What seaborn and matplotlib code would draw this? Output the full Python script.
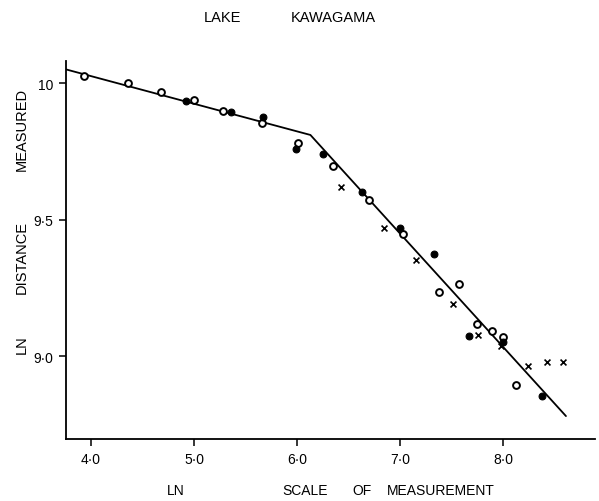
import matplotlib
matplotlib.use("Agg")
import matplotlib.pyplot as plt
import seaborn as sns
import pandas as pd

# ---- data ----
open_x = [3.93, 4.36, 4.68, 5.00, 5.28, 5.66, 6.01, 6.35, 6.70, 7.03, 7.38, 7.57, 7.75, 7.89, 8.00, 8.13]
open_y = [10.026, 10.00, 9.967, 9.938, 9.897, 9.853, 9.780, 9.696, 9.571, 9.447, 9.234, 9.264, 9.117, 9.092, 9.070, 8.894]

filled_x = [4.92, 5.36, 5.67, 5.99, 6.25, 6.63, 7.00, 7.33, 7.67, 8.00, 8.38]
filled_y = [9.934, 9.894, 9.875, 9.758, 9.740, 9.600, 9.469, 9.374, 9.073, 9.052, 8.853]

cross_x = [6.43, 6.84, 7.15, 7.51, 7.76, 7.98, 8.24, 8.43, 8.58]
cross_y = [9.620, 9.469, 9.352, 9.190, 9.077, 9.037, 8.963, 8.978, 8.978]

line_x = [3.76, 6.13, 8.61]
line_y = [10.05, 9.81, 8.78]

x_ticks = [4.0, 5.0, 6.0, 7.0, 8.0]
x_tick_labels = ["4·0", "5·0", "6·0", "7·0", "8·0"]
y_ticks = [9.0, 9.5, 10.0]
y_tick_labels = ["9·0", "9·5", "10"]

title_words = ["LAKE", "KAWAGAMA"]
x_label_words = ["LN", "SCALE", "OF", "MEASUREMENT"]
y_label_words = ["LN", "DISTANCE", "MEASURED"]

# ---- figure ----
sns.set_theme(style="white")
plt.rcParams["font.family"] = ["Liberation Sans", "DejaVu Sans"]

W, H = 599, 502
fig = plt.figure(figsize=(W / 100, H / 100), dpi=100)
ax = fig.add_axes([0.110, 0.1235, 0.883, 0.753])

line_df = pd.DataFrame({"x": line_x, "y": line_y})
sns.lineplot(data=line_df, x="x", y="y", sort=False, color="black", linewidth=1.3, ax=ax)

sns.scatterplot(x=open_x, y=open_y, marker="o", s=24, facecolor="white",
                edgecolor="black", linewidth=1.4, ax=ax, zorder=3)
sns.scatterplot(x=filled_x, y=filled_y, marker="o", s=24, color="black",
                edgecolor="black", linewidth=0.8, ax=ax, zorder=3)
sns.scatterplot(x=cross_x, y=cross_y, marker="x", s=18, color="black",
                linewidth=1.2, ax=ax, zorder=3)

ax.set_xlim(3.757, 8.89)
ax.set_ylim(8.696, 10.081)

ax.set_xticks(x_ticks)
ax.set_xticklabels(x_tick_labels, fontsize=10)
ax.set_yticks(y_ticks)
ax.set_yticklabels(y_tick_labels, fontsize=10)

for s in ["top", "right"]:
    ax.spines[s].set_visible(False)
for s in ["left", "bottom"]:
    ax.spines[s].set_color("black")
    ax.spines[s].set_linewidth(1.3)

ax.tick_params(axis="both", direction="out", length=5, width=1.1, color="black",
               bottom=True, left=True, pad=4, labelcolor="black")
ax.grid(False)
ax.set_xlabel("")
ax.set_ylabel("")

txt_kw = dict(fontsize=10.5, color="black", ha="center", va="center")

# title words (pixel centres)
for word, px in zip(title_words, [222, 333]):
    fig.text(px / W, 1 - 18 / H, word, **txt_kw)

# x-axis label words
for word, px in zip(x_label_words, [176, 305, 362, 441]):
    fig.text(px / W, 1 - 491 / H, word, fontsize=10, color="black", ha="center", va="center")

# y-axis label words (rotated)
for word, py in zip(y_label_words, [345, 257, 129]):
    fig.text(22 / W, 1 - py / H, word, rotation=90, **txt_kw)

fig.savefig("out.png", dpi=100, facecolor="white")
